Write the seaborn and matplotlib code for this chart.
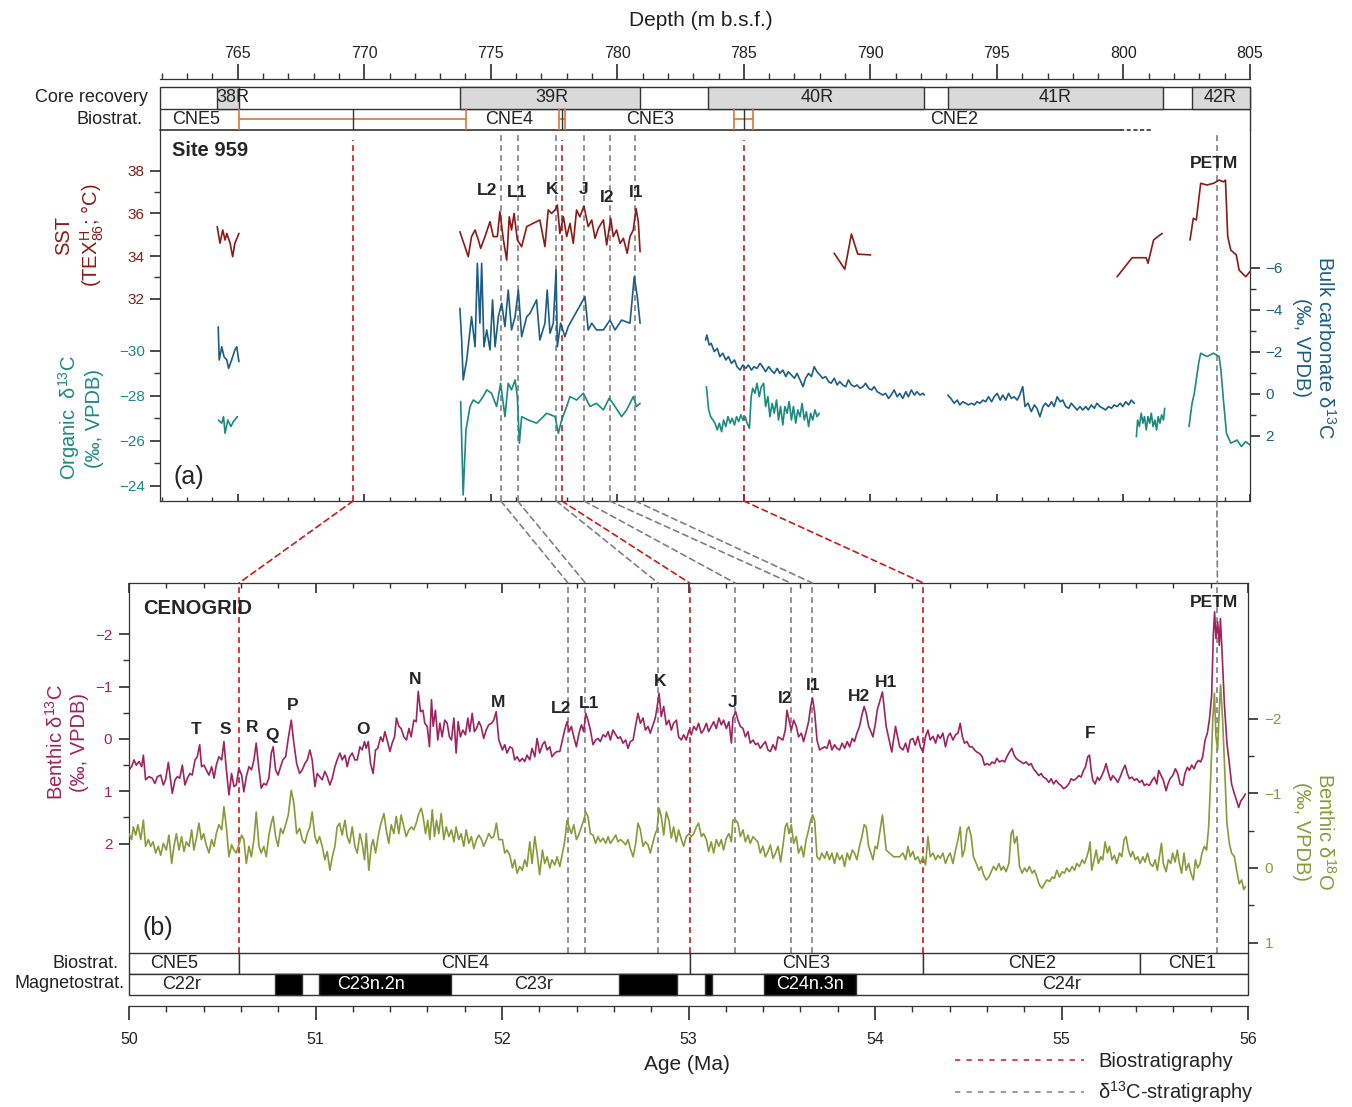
import numpy as np
import pandas as pd
import seaborn as sns
import matplotlib.pyplot as plt
from matplotlib.patches import Rectangle, ConnectionPatch
from matplotlib.lines import Line2D
from matplotlib.ticker import MultipleLocator

# ------------------------------------------------------------------
# Site 959 records (depth in m b.s.f.)
# ------------------------------------------------------------------
sst_depth_38r = [764.19, 764.30, 764.41, 764.50, 764.57, 764.70, 764.80, 764.89, 765.05]
sst_38r = [35.38, 34.60, 35.22, 34.75, 35.06, 34.60, 33.97, 34.60, 35.06]
sst_depth_39r = [773.78, 773.89, 773.98, 774.11, 774.24, 774.38, 774.51, 774.60, 774.77, 774.97,
                 775.10, 775.26, 775.36, 775.50, 775.63, 775.73, 775.82, 775.92, 776.05, 776.22,
                 776.42, 776.94, 777.14, 777.27, 777.40, 777.54, 777.63, 777.73, 777.87, 778.00,
                 778.13, 778.26, 778.39, 778.52, 778.68, 778.85, 778.99, 779.12, 779.25, 779.45,
                 779.58, 779.74, 779.84, 779.97, 780.11, 780.24, 780.39, 780.50, 780.63, 780.74,
                 780.83, 780.90]
sst_39r = [35.14, 34.75, 34.44, 33.97, 34.91, 35.22, 34.75, 34.36, 34.91, 35.61,
           34.91, 34.91, 36.08, 34.75, 33.81, 35.84, 35.22, 36.00, 34.75, 34.44,
           35.38, 35.69, 34.44, 36.16, 36.00, 36.16, 36.39, 35.06, 35.84, 34.91,
           35.53, 34.59, 36.16, 35.84, 36.34, 35.38, 35.69, 34.83, 35.30, 35.69,
           34.52, 35.77, 34.91, 35.22, 34.59, 34.83, 34.13, 34.91, 35.22, 36.23,
           35.61, 34.20]
sst_depth_40r = [788.57, 788.99, 789.25, 789.50, 790.01]
sst_40r = [34.13, 33.38, 35.03, 34.09, 34.05]
sst_depth_41r = [799.75, 800.34, 800.90, 800.97, 801.19, 801.27, 801.53]
sst_41r = [33.03, 33.92, 33.92, 33.66, 34.75, 34.83, 35.06]
sst_depth_42r = [802.63, 802.76, 802.88, 803.05, 803.30, 803.56, 803.78, 803.95, 804.03, 804.12,
                 804.24, 804.46, 804.57, 804.83, 805.00]
sst_42r = [34.75, 35.77, 35.69, 37.41, 37.33, 37.41, 37.56, 37.48, 37.56, 34.91,
           34.28, 34.05, 33.34, 33.03, 33.27]

bulk_depth_38r = [764.23, 764.27, 764.37, 764.46, 764.57, 764.64, 764.76, 764.89, 764.96, 765.05]
bulk_38r = [-3.20, -1.62, -2.25, -1.78, -1.62, -1.22, -1.62, -2.10, -2.25, -1.54]
bulk_depth_39r = [773.78, 773.85, 773.91, 774.05, 774.24, 774.38, 774.47, 774.57, 774.64, 774.73,
                  774.84, 774.97, 775.07, 775.17, 775.30, 775.43, 775.56, 775.69, 775.82, 775.96,
                  776.09, 776.22, 776.42, 776.55, 776.81, 776.94, 777.14, 777.23, 777.34, 777.47,
                  777.58, 777.63, 777.76, 777.93, 778.06, 778.72, 778.85, 778.99, 779.18, 779.45,
                  779.71, 779.91, 780.17, 780.50, 780.67, 780.79, 780.90]
bulk_39r = [-4.08, -2.57, -0.67, -1.62, -3.68, -2.25, -6.22, -3.37, -6.22, -2.25,
            -3.05, -2.10, -4.48, -2.25, -3.68, -4.32, -3.21, -4.95, -3.05, -3.68,
            -4.95, -2.73, -3.68, -3.84, -4.48, -2.57, -3.37, -4.95, -2.89, -3.37,
            -5.90, -2.25, -3.37, -2.73, -3.21, -4.63, -3.05, -3.37, -3.05, -3.05,
            -3.52, -3.05, -3.52, -3.37, -5.59, -4.63, -3.37]
bulk_depth_40r = [783.49, 783.54, 783.63, 783.71, 783.83, 783.95, 784.05, 784.17, 784.29, 784.39,
                  784.51, 784.63, 784.73, 784.85, 784.96, 785.07, 785.18, 785.30, 785.40, 785.52,
                  785.64, 785.74, 785.86, 785.98, 786.08, 786.20, 786.32, 786.42, 786.54, 786.66,
                  786.76, 786.88, 787.00, 787.10, 787.22, 787.34, 787.44, 787.56, 787.67, 787.78,
                  787.89, 788.01, 788.11, 788.23, 788.35, 788.45, 788.57, 788.69, 788.79, 788.91,
                  789.03, 789.13, 789.25, 789.37, 789.47, 789.59, 789.71, 789.81, 789.93, 790.05,
                  790.15, 790.27, 790.38, 790.49, 790.60, 790.72, 790.82, 790.94, 791.06, 791.16,
                  791.28, 791.40, 791.50, 791.62, 791.74, 791.84, 791.96, 792.08, 792.13]
bulk_40r = [-2.57, -2.81, -2.33, -2.41, -2.02, -2.17, -1.78, -1.94, -1.62, -1.78,
            -1.46, -1.62, -1.30, -1.14, -1.38, -1.22, -1.38, -1.14, -1.30, -1.22,
            -1.46, -1.30, -1.06, -1.30, -1.14, -0.98, -1.22, -0.98, -1.14, -0.83,
            -1.06, -0.90, -0.75, -0.98, -0.67, -0.35, -0.75, -0.98, -0.83, -1.30,
            -1.06, -0.90, -0.75, -0.83, -0.59, -0.51, -0.75, -0.43, -0.59, -0.43,
            -0.35, -0.67, -0.43, -0.35, -0.43, -0.27, -0.35, -0.51, -0.27, -0.19,
            -0.35, -0.11, -0.03, 0.05, -0.03, 0.21, 0.05, -0.19, 0.13, -0.03,
            0.21, -0.11, 0.13, -0.19, 0.05, -0.11, 0.05, -0.03, 0.05]
bulk_depth_41r = [793.06, 793.18, 793.31, 793.43, 793.53, 793.65, 793.77, 793.87, 793.99, 794.11,
                  794.21, 794.33, 794.45, 794.55, 794.67, 794.79, 794.89, 795.01, 795.13, 795.23,
                  795.35, 795.46, 795.57, 795.68, 795.80, 795.90, 796.02, 796.11, 796.23, 796.36,
                  796.48, 796.58, 796.70, 796.82, 796.92, 797.04, 797.16, 797.26, 797.38, 797.50,
                  797.60, 797.72, 797.84, 797.94, 798.05, 798.17, 798.28, 798.39, 798.51, 798.61,
                  798.73, 798.85, 798.95, 799.07, 799.19, 799.29, 799.41, 799.53, 799.63, 799.75,
                  799.87, 799.97, 800.09, 800.21, 800.31, 800.43]
bulk_41r = [0.05, 0.21, 0.44, 0.29, 0.52, 0.37, 0.44, 0.52, 0.44, 0.52,
            0.37, 0.44, 0.29, 0.37, 0.13, 0.37, 0.13, -0.03, 0.29, 0.05,
            0.29, -0.03, 0.21, 0.13, 0.29, 0.05, -0.35, 0.60, 0.44, 0.84,
            0.52, 0.68, 1.08, 0.60, 0.44, 0.60, 0.37, 0.60, 0.13, 0.37,
            0.29, 0.60, 0.68, 0.44, 0.60, 0.76, 0.60, 0.76, 0.60, 0.76,
            0.52, 0.68, 0.44, 0.60, 0.68, 0.76, 0.60, 0.68, 0.52, 0.60,
            0.44, 0.60, 0.37, 0.52, 0.29, 0.44]

org_depth_38r = [764.24, 764.37, 764.44, 764.50, 764.61, 764.73, 764.83, 764.99]
org_38r = [-26.93, -26.79, -27.08, -26.34, -26.93, -26.64, -26.86, -27.08]
org_depth_39r = [773.81, 773.91, 774.02, 774.18, 774.31, 774.51, 774.70, 774.84, 775.03, 775.23,
                 775.39, 775.56, 775.69, 775.82, 775.96, 776.05, 776.13, 776.22, 776.48, 776.81,
                 776.94, 777.21, 777.54, 777.67, 777.80, 778.00, 778.13, 778.39, 778.66, 778.92,
                 779.18, 779.45, 779.68, 779.91, 780.17, 780.37, 780.63, 780.76, 780.90]
org_39r = [-27.75, -23.60, -26.49, -27.53, -27.82, -27.67, -27.97, -28.27, -28.12, -27.53,
           -28.56, -27.08, -28.56, -28.27, -28.71, -27.97, -25.90, -27.08, -26.93, -26.79,
           -26.93, -27.23, -27.08, -26.34, -26.93, -27.53, -27.97, -27.82, -28.12, -27.53,
           -27.67, -27.38, -27.90, -27.53, -27.08, -27.38, -27.97, -27.53, -27.67]
org_depth_40r = [783.52, 783.56, 783.61, 783.69, 783.78, 783.86, 783.95, 784.03, 784.12, 784.20,
                 784.29, 784.37, 784.46, 784.54, 784.63, 784.71, 784.80, 784.88, 784.96, 785.05,
                 785.13, 785.22, 785.29, 785.35, 785.44, 785.52, 785.61, 785.69, 785.78, 785.86,
                 785.95, 786.03, 786.12, 786.20, 786.29, 786.37, 786.45, 786.54, 786.62, 786.71,
                 786.79, 786.88, 786.96, 787.05, 787.13, 787.22, 787.30, 787.39, 787.47, 787.56,
                 787.64, 787.72, 787.81, 787.89, 787.98]
org_40r = [-28.41, -27.97, -27.38, -27.08, -26.93, -26.79, -26.49, -26.79, -26.41, -26.93,
           -26.64, -27.08, -26.79, -27.01, -26.71, -27.08, -26.86, -27.16, -26.93, -27.08,
           -26.79, -26.56, -27.97, -28.34, -28.12, -28.56, -27.97, -28.41, -28.56, -27.53,
           -27.97, -27.08, -27.67, -27.23, -27.82, -26.93, -27.53, -26.71, -27.53, -27.23,
           -27.75, -26.93, -27.53, -26.79, -27.38, -27.08, -27.67, -26.93, -27.30, -26.64,
           -27.23, -26.93, -27.38, -27.08, -27.23]
org_depth_41r = [800.51, 800.56, 800.63, 800.70, 800.77, 800.83, 800.90, 800.97, 801.04, 801.10,
                 801.17, 801.24, 801.31, 801.37, 801.44, 801.51, 801.58, 801.63]
org_41r = [-26.19, -26.93, -26.64, -27.23, -26.79, -27.08, -26.49, -27.08, -26.79, -27.23,
           -26.64, -26.93, -26.49, -27.08, -26.79, -27.16, -26.93, -27.45]
org_depth_42r = [802.59, 802.71, 802.80, 802.97, 803.05, 803.30, 803.56, 803.78, 803.85, 803.95,
                 804.07, 804.24, 804.49, 804.66, 804.83, 805.00]
org_42r = [-26.64, -27.67, -28.12, -29.45, -29.90, -29.75, -29.90, -29.75, -29.16, -27.82,
           -26.34, -25.90, -26.04, -25.75, -25.97, -25.82]

# core recovery and biostratigraphy at Site 959
core_names = ["38R", "39R", "40R", "41R", "42R"]
core_top = [764.20, 773.80, 783.60, 793.06, 802.70]
core_bottom = [765.05, 780.90, 792.10, 801.58, 805.00]
core_label_depth = [764.80, 777.40, 787.90, 797.30, 803.80]
zone_a_names = ["CNE5", "CNE4", "CNE3", "CNE2"]
zone_a_label_depth = [763.35, 775.72, 781.29, 793.30]
zone_a_boundary = [769.56, 777.81, 785.00]
zone_a_lower = [765.04, 777.71, 784.60]
zone_a_upper = [774.02, 777.94, 785.38]
zone_a_known_until = 799.86
zone_a_dotted_until = 801.16

# tie points: depth at Site 959 and age in CENOGRID
tie_depth = [775.40, 776.06, 777.59, 778.69, 779.70, 780.71]
tie_age = [52.354, 52.447, 52.837, 53.250, 53.548, 53.664]
petm_depth = 803.69
petm_age = 55.836

# ------------------------------------------------------------------
# CENOGRID benthic records (age in Ma)
# ------------------------------------------------------------------
# 50-52 Ma
d13c_age_1 = [50.000, 50.014, 50.027, 50.039, 50.054, 50.068, 50.077, 50.089, 50.107, 50.125,
              50.139, 50.152, 50.170, 50.184, 50.196, 50.211, 50.223, 50.232, 50.247, 50.259,
              50.272, 50.286, 50.300, 50.313, 50.327, 50.339, 50.354, 50.366, 50.379, 50.389,
              50.402, 50.414, 50.429, 50.443, 50.456, 50.468, 50.482, 50.497, 50.509, 50.522,
              50.536, 50.550, 50.563, 50.575, 50.589, 50.604, 50.616, 50.629, 50.643, 50.657,
              50.670, 50.682, 50.697, 50.709, 50.723, 50.736, 50.750, 50.763, 50.773, 50.786,
              50.799, 50.813, 50.825, 50.840, 50.854, 50.870, 50.884, 50.899, 50.915, 50.929,
              50.943, 50.956, 50.970, 50.982, 50.997, 51.009, 51.022, 51.036, 51.050, 51.063,
              51.077, 51.090, 51.104, 51.116, 51.131, 51.143, 51.158, 51.170, 51.183, 51.197,
              51.211, 51.224, 51.238, 51.250, 51.263, 51.272, 51.283, 51.295, 51.309, 51.322,
              51.334, 51.349, 51.361, 51.372, 51.384, 51.399, 51.411, 51.424, 51.434, 51.447,
              51.459, 51.474, 51.488, 51.501, 51.513, 51.527, 51.540, 51.551, 51.563, 51.576,
              51.586, 51.599, 51.611, 51.622, 51.631, 51.643, 51.656, 51.667, 51.679, 51.693,
              51.706, 51.718, 51.729, 51.742, 51.754, 51.765, 51.777, 51.790, 51.804, 51.817,
              51.827, 51.840, 51.852, 51.863, 51.876, 51.888, 51.902, 51.915, 51.929, 51.944,
              51.956, 51.969, 51.983]
d13c_1 = [0.59, 0.53, 0.40, 0.50, 0.43, 0.53, 0.31, 0.78, 0.72, 0.75,
          0.85, 0.72, 0.69, 0.88, 0.78, 0.45, 0.78, 1.04, 0.78, 0.72,
          0.75, 0.50, 0.88, 0.75, 0.66, 0.69, 0.40, 0.34, 0.11, 0.53,
          0.50, 0.59, 0.69, 0.53, 0.75, 0.50, 0.34, 0.40, 0.05, 0.59,
          1.07, 0.66, 0.91, 0.88, 0.56, 0.69, 1.01, 0.72, 0.53, 0.59,
          0.40, 0.08, 0.59, 0.94, 0.85, 0.88, 0.75, 0.27, 0.15, 0.59,
          0.69, 0.53, 0.40, 0.34, -0.01, -0.36, 0.08, 0.47, 0.66, 0.59,
          0.47, 0.40, 0.21, 0.40, 0.91, 0.66, 0.72, 0.78, 0.62, 0.72,
          0.88, 0.75, 0.53, 0.40, 0.27, 0.40, 0.31, 0.53, 0.34, 0.27,
          0.40, 0.40, 0.15, 0.21, 0.05, 0.18, 0.05, 0.47, 0.66, 0.21,
          0.18, -0.04, 0.05, -0.14, 0.02, 0.24, 0.08, -0.04, -0.40, -0.24,
          -0.20, -0.04, 0.02, -0.20, -0.04, -0.36, -0.33, -0.91, -0.52, -0.55,
          -0.30, -0.24, 0.15, -0.75, -0.24, -0.55, 0.02, -0.30, -0.04, -0.36,
          -0.30, -0.04, 0.02, -0.40, 0.27, -0.33, -0.04, -0.17, -0.08, -0.40,
          -0.14, -0.49, -0.14, -0.20, -0.33, -0.24, -0.01, -0.17, -0.27, -0.30,
          -0.36, -0.52, 0.02]
d18o_age_1 = [50.000, 50.014, 50.023, 50.036, 50.048, 50.063, 50.077, 50.089, 50.104, 50.116,
              50.129, 50.143, 50.157, 50.170, 50.184, 50.200, 50.214, 50.229, 50.241, 50.254,
              50.268, 50.282, 50.295, 50.307, 50.322, 50.336, 50.348, 50.363, 50.375, 50.388,
              50.400, 50.414, 50.429, 50.443, 50.456, 50.468, 50.482, 50.497, 50.509, 50.522,
              50.536, 50.550, 50.563, 50.575, 50.589, 50.604, 50.616, 50.629, 50.643, 50.656,
              50.670, 50.682, 50.697, 50.709, 50.723, 50.736, 50.750, 50.763, 50.773, 50.786,
              50.799, 50.813, 50.825, 50.840, 50.854, 50.870, 50.884, 50.899, 50.915, 50.929,
              50.943, 50.956, 50.970, 50.982, 50.997, 51.009, 51.022, 51.036, 51.050, 51.063,
              51.077, 51.090, 51.104, 51.116, 51.129, 51.143, 51.158, 51.170, 51.183, 51.197,
              51.211, 51.224, 51.238, 51.250, 51.263, 51.272, 51.286, 51.299, 51.309, 51.322,
              51.336, 51.349, 51.367, 51.379, 51.393, 51.406, 51.420, 51.433, 51.447, 51.459,
              51.474, 51.486, 51.501, 51.515, 51.527, 51.540, 51.554, 51.567, 51.577, 51.590,
              51.602, 51.613, 51.626, 51.638, 51.649, 51.661, 51.674, 51.688, 51.701, 51.715,
              51.729, 51.742, 51.754, 51.768, 51.781, 51.795, 51.808, 51.822, 51.836, 51.849,
              51.863, 51.876, 51.890, 51.902, 51.917, 51.929, 51.944, 51.956, 51.970, 51.983]
d18o_1 = [-0.46, -0.38, -0.55, -0.44, -0.58, -0.38, -0.64, -0.29, -0.38, -0.29,
          -0.35, -0.20, -0.29, -0.17, -0.33, -0.24, -0.44, -0.06, -0.29, -0.46,
          -0.24, -0.42, -0.22, -0.35, -0.29, -0.51, -0.24, -0.42, -0.60, -0.38,
          -0.46, -0.31, -0.20, -0.38, -0.29, -0.46, -0.58, -0.51, -0.82, -0.55,
          -0.15, -0.31, -0.24, -0.20, -0.31, -0.44, -0.38, -0.06, -0.29, -0.15,
          -0.38, -0.75, -0.29, -0.20, -0.29, -0.15, -0.44, -0.60, -0.69, -0.42,
          -0.29, -0.53, -0.46, -0.58, -0.71, -1.04, -0.87, -0.46, -0.53, -0.38,
          -0.33, -0.46, -0.55, -0.75, -0.42, -0.33, -0.42, -0.29, -0.11, -0.22,
          0.03, -0.15, -0.29, -0.55, -0.60, -0.44, -0.64, -0.42, -0.33, -0.55,
          -0.29, -0.20, -0.46, -0.33, -0.11, -0.46, 0.03, -0.29, -0.38, -0.20,
          -0.42, -0.58, -0.73, -0.51, -0.33, -0.58, -0.46, -0.69, -0.46, -0.71,
          -0.55, -0.42, -0.51, -0.55, -0.51, -0.60, -0.73, -0.80, -0.69, -0.46,
          -0.64, -0.38, -0.78, -0.42, -0.64, -0.46, -0.73, -0.38, -0.55, -0.42,
          -0.51, -0.35, -0.55, -0.38, -0.46, -0.29, -0.51, -0.33, -0.42, -0.26,
          -0.38, -0.44, -0.38, -0.29, -0.38, -0.46, -0.40, -0.42, -0.60, -0.38]

# 52-54 Ma (same sampling for both isotopes)
age_2 = [52.002, 52.015, 52.027, 52.042, 52.056, 52.068, 52.081, 52.095, 52.109, 52.122,
         52.134, 52.149, 52.161, 52.176, 52.188, 52.202, 52.217, 52.229, 52.242, 52.256,
         52.268, 52.283, 52.295, 52.310, 52.324, 52.336, 52.349, 52.360, 52.372, 52.385,
         52.399, 52.411, 52.426, 52.438, 52.449, 52.461, 52.474, 52.488, 52.502, 52.515,
         52.527, 52.542, 52.556, 52.569, 52.581, 52.595, 52.610, 52.622, 52.635, 52.649,
         52.663, 52.676, 52.688, 52.703, 52.717, 52.729, 52.742, 52.756, 52.769, 52.783,
         52.795, 52.810, 52.822, 52.831, 52.842, 52.854, 52.867, 52.881, 52.895, 52.908,
         52.920, 52.935, 52.947, 52.962, 52.974, 52.988, 53.003, 53.015, 53.028, 53.042,
         53.054, 53.069, 53.081, 53.096, 53.108, 53.122, 53.135, 53.149, 53.163, 53.176,
         53.188, 53.203, 53.217, 53.230, 53.238, 53.253, 53.265, 53.278, 53.292, 53.305,
         53.319, 53.331, 53.346, 53.360, 53.372, 53.385, 53.399, 53.412, 53.426, 53.439,
         53.453, 53.467, 53.480, 53.494, 53.506, 53.519, 53.528, 53.539, 53.551, 53.564,
         53.578, 53.590, 53.605, 53.617, 53.631, 53.644, 53.655, 53.665, 53.676, 53.689,
         53.703, 53.715, 53.730, 53.742, 53.756, 53.769, 53.783, 53.796, 53.810, 53.824,
         53.837, 53.851, 53.864, 53.878, 53.890, 53.903, 53.917, 53.930, 53.942, 53.953,
         53.966, 53.978, 53.989, 54.001, 54.012]
d13c_2 = [0.21, 0.11, 0.27, 0.15, 0.18, 0.40, 0.34, 0.43, 0.37, 0.43,
          0.31, 0.40, 0.18, 0.34, -0.01, 0.27, 0.11, 0.05, 0.21, 0.15,
          0.34, 0.27, 0.24, 0.24, 0.02, -0.17, -0.33, -0.14, -0.24, -0.04,
          0.15, -0.08, -0.27, -0.14, -0.49, -0.36, -0.17, 0.11, 0.02, -0.01,
          0.05, -0.08, -0.04, -0.14, 0.02, -0.17, -0.08, -0.01, -0.04, 0.08,
          0.02, 0.18, 0.05, 0.02, -0.27, -0.49, -0.30, -0.40, -0.17, -0.24,
          -0.11, -0.27, -0.40, -0.59, -0.87, -0.43, -0.62, -0.27, -0.36, -0.17,
          -0.30, -0.36, -0.04, 0.02, -0.08, 0.02, -0.17, -0.08, -0.24, -0.17,
          -0.30, -0.11, -0.17, -0.30, -0.14, -0.24, -0.33, -0.20, -0.40, -0.27,
          -0.36, -0.20, -0.33, 0.08, -0.40, -0.52, -0.36, -0.24, -0.20, -0.04,
          -0.14, 0.08, 0.02, 0.11, 0.08, 0.18, 0.11, 0.05, 0.21, 0.24,
          0.11, 0.21, -0.04, -0.01, 0.02, -0.17, -0.55, -0.36, -0.17, -0.36,
          -0.24, -0.04, -0.11, 0.05, -0.14, -0.33, -0.62, -0.78, -0.52, 0.02,
          0.21, 0.18, 0.15, 0.18, 0.02, 0.21, 0.11, 0.18, 0.21, 0.08,
          0.18, 0.05, 0.15, -0.01, 0.05, -0.11, -0.24, -0.46, -0.62, -0.49,
          -0.24, -0.14, -0.04, -0.27, -0.55]
d18o_2 = [-0.38, -0.20, -0.24, -0.17, 0.00, -0.11, 0.07, -0.02, 0.03, -0.11,
          -0.02, -0.35, -0.06, -0.42, -0.20, 0.09, -0.24, -0.06, -0.15, 0.00,
          -0.11, -0.04, -0.15, -0.02, -0.20, -0.35, -0.64, -0.55, -0.46, -0.58,
          -0.38, -0.44, -0.55, -0.64, -0.75, -0.69, -0.46, -0.44, -0.33, -0.42,
          -0.35, -0.40, -0.33, -0.42, -0.33, -0.38, -0.44, -0.35, -0.38, -0.35,
          -0.31, -0.38, -0.26, -0.15, -0.33, -0.60, -0.51, -0.29, -0.35, -0.31,
          -0.20, -0.35, -0.46, -0.51, -0.80, -0.69, -0.44, -0.75, -0.64, -0.40,
          -0.55, -0.35, -0.51, -0.38, -0.29, -0.42, -0.46, -0.42, -0.46, -0.55,
          -0.60, -0.42, -0.46, -0.38, -0.22, -0.35, -0.20, -0.38, -0.29, -0.38,
          -0.24, -0.40, -0.46, -0.35, -0.64, -0.64, -0.60, -0.42, -0.51, -0.35,
          -0.44, -0.33, -0.42, -0.38, -0.35, -0.20, -0.29, -0.15, -0.22, -0.31,
          -0.13, -0.20, -0.29, -0.08, -0.29, -0.55, -0.60, -0.46, -0.58, -0.33,
          -0.42, -0.20, -0.29, -0.15, -0.38, -0.51, -0.64, -0.71, -0.64, -0.15,
          -0.11, -0.20, -0.13, -0.22, -0.11, -0.20, -0.06, -0.20, -0.11, -0.17,
          -0.02, -0.20, -0.11, -0.24, -0.20, -0.11, -0.29, -0.42, -0.58, -0.55,
          -0.29, -0.20, -0.11, -0.29, -0.26]

# 54-56 Ma
d13c_age_3 = [54.04, 54.06, 54.09, 54.11,
              54.132, 54.150, 54.164, 54.177, 54.189, 54.203, 54.216, 54.230, 54.243, 54.257,
              54.271, 54.284, 54.296, 54.311, 54.325, 54.337, 54.350, 54.364, 54.378, 54.391,
              54.403, 54.418, 54.432, 54.445, 54.457, 54.468, 54.480, 54.493, 54.507, 54.521,
              54.534, 54.546, 54.561, 54.575, 54.587, 54.600, 54.614, 54.628, 54.641, 54.653,
              54.668, 54.682, 54.695, 54.707, 54.721, 54.734, 54.746, 54.757, 54.771, 54.784,
              54.796, 54.811, 54.825, 54.837, 54.850, 54.864, 54.878, 54.891, 54.903, 54.918,
              54.932, 54.945, 54.957, 54.971, 54.986, 54.998, 55.011, 55.025, 55.039, 55.052,
              55.064, 55.078, 55.093, 55.105, 55.118, 55.128, 55.141, 55.150, 55.159, 55.168,
              55.180, 55.193, 55.203, 55.216, 55.228, 55.239, 55.252, 55.264, 55.275, 55.289,
              55.302, 55.314, 55.328, 55.341, 55.353, 55.364, 55.378, 55.391, 55.403, 55.418,
              55.432, 55.444, 55.457, 55.471, 55.486, 55.498, 55.511, 55.521, 55.534, 55.546,
              55.561, 55.571, 55.582, 55.596, 55.611, 55.623, 55.636, 55.650, 55.662, 55.675,
              55.686, 55.698, 55.711, 55.721, 55.734, 55.746, 55.757, 55.770, 55.782, 55.793,
              55.805, 55.814, 55.821, 55.828, 55.837, 55.846, 55.852, 55.861, 55.873, 55.887,
              55.900, 55.912, 55.927, 55.939, 55.950, 55.962, 55.975, 55.986]
d13c_3 = [-0.90, -0.24, 0.25, -0.24,
          0.15, 0.21, 0.08, 0.25, 0.02, -0.01, 0.12, -0.05, 0.15, 0.25,
          -0.05, -0.17, 0.02, -0.05, 0.08, -0.08, -0.01, -0.11, 0.15, -0.05,
          -0.11, 0.02, -0.08, -0.11, -0.30, -0.05, 0.08, 0.05, 0.15, 0.15,
          0.21, 0.25, 0.28, 0.34, 0.50, 0.47, 0.50, 0.44, 0.47, 0.37,
          0.44, 0.41, 0.44, 0.34, 0.25, 0.18, 0.31, 0.37, 0.41, 0.44,
          0.47, 0.44, 0.50, 0.47, 0.57, 0.63, 0.70, 0.66, 0.73, 0.76,
          0.83, 0.76, 0.86, 0.79, 0.86, 0.89, 0.95, 0.92, 0.86, 0.76,
          0.79, 0.76, 0.70, 0.73, 0.60, 0.54, 0.34, 0.31, 0.60, 0.79,
          0.86, 0.73, 0.79, 0.70, 0.60, 0.47, 0.66, 0.79, 0.70, 0.76,
          0.83, 0.73, 0.60, 0.50, 0.66, 0.76, 0.73, 0.79, 0.76, 0.83,
          0.79, 0.89, 0.86, 0.89, 0.79, 0.73, 0.86, 0.60, 0.70, 0.79,
          0.99, 0.86, 0.76, 0.70, 0.57, 0.66, 0.86, 0.89, 0.66, 0.54,
          0.60, 0.50, 0.57, 0.47, 0.41, 0.44, 0.34, 0.02, -0.11, -0.37,
          -0.82, -1.98, -2.43, -1.92, -2.24, -1.79, -2.30, -1.66, -0.69, 0.08,
          0.47, 0.86, 1.05, 1.18, 1.31, 1.18, 1.12, 1.05]
d18o_age_3 = [54.04, 54.06, 54.10,
              54.132, 54.150, 54.164, 54.177, 54.189, 54.203, 54.216, 54.230, 54.243, 54.257,
              54.271, 54.284, 54.296, 54.311, 54.325, 54.337, 54.350, 54.364, 54.378, 54.391,
              54.403, 54.418, 54.432, 54.445, 54.457, 54.468, 54.480, 54.493, 54.503, 54.516,
              54.528, 54.543, 54.557, 54.570, 54.582, 54.596, 54.611, 54.623, 54.636, 54.650,
              54.664, 54.677, 54.689, 54.703, 54.718, 54.730, 54.739, 54.748, 54.761, 54.775,
              54.789, 54.802, 54.814, 54.828, 54.843, 54.855, 54.868, 54.882, 54.896, 54.909,
              54.921, 54.936, 54.950, 54.962, 54.975, 54.989, 55.003, 55.016, 55.028, 55.043,
              55.057, 55.070, 55.082, 55.096, 55.111, 55.123, 55.136, 55.146, 55.153, 55.162,
              55.175, 55.186, 55.198, 55.211, 55.221, 55.234, 55.246, 55.257, 55.271, 55.284,
              55.296, 55.311, 55.323, 55.336, 55.346, 55.359, 55.371, 55.382, 55.396, 55.409,
              55.421, 55.436, 55.448, 55.461, 55.475, 55.489, 55.502, 55.514, 55.525, 55.536,
              55.546, 55.561, 55.573, 55.586, 55.596, 55.609, 55.621, 55.632, 55.644, 55.657,
              55.668, 55.682, 55.694, 55.707, 55.718, 55.730, 55.743, 55.753, 55.766, 55.778,
              55.789, 55.800, 55.811, 55.820, 55.828, 55.837, 55.846, 55.853, 55.864, 55.875,
              55.887, 55.900, 55.912, 55.927, 55.939, 55.953, 55.966, 55.977, 55.986]
d18o_3 = [-0.71, -0.24, -0.15,
          -0.15, -0.20, -0.11, -0.29, -0.15, -0.22, -0.11, -0.15, -0.06, -0.15,
          -0.04, -0.42, -0.15, -0.20, -0.11, -0.17, -0.13, -0.20, -0.06, -0.15,
          -0.20, -0.06, -0.24, -0.38, -0.55, -0.15, -0.24, -0.51, -0.55, -0.42,
          -0.15, -0.06, 0.03, -0.02, 0.09, 0.16, 0.12, 0.05, -0.02, 0.03,
          -0.06, 0.03, -0.02, 0.05, -0.06, -0.46, -0.51, -0.33, -0.42, -0.02,
          0.07, 0.00, 0.05, -0.02, 0.07, 0.03, 0.12, 0.23, 0.27, 0.21,
          0.16, 0.18, 0.12, 0.14, 0.03, 0.12, 0.05, 0.07, 0.00, 0.05,
          -0.02, 0.03, -0.06, -0.02, -0.11, -0.06, -0.15, -0.24, -0.35, 0.03,
          -0.11, -0.24, -0.06, -0.15, -0.11, -0.35, -0.20, -0.29, -0.11, -0.17,
          -0.06, -0.20, -0.15, -0.38, -0.42, -0.24, -0.15, -0.22, -0.11, -0.15,
          -0.06, -0.15, -0.08, -0.20, -0.06, -0.02, -0.11, 0.03, -0.15, -0.33,
          -0.06, 0.05, -0.11, -0.06, -0.20, -0.08, -0.24, -0.06, 0.07, -0.20,
          0.03, -0.06, 0.07, 0.16, -0.11, 0.00, -0.06, -0.20, -0.29, -0.24,
          -0.55, -1.21, -1.98, -2.34, -1.76, -1.58, -2.11, -2.45, -1.98, -1.31,
          -0.60, -0.33, -0.20, -0.15, 0.03, 0.21, 0.16, 0.29, 0.25]

# biostratigraphic zones and polarity chrons (age, Ma)
zone_b_names = ["CNE5", "CNE4", "CNE3", "CNE2", "CNE1"]
zone_b_edges = [50.00, 50.59, 53.006, 54.26, 55.42, 56.00]
zone_b_label_age = [50.24, 51.80, 53.63, 54.84, 55.70]
normal_start = [50.785, 51.02, 52.63, 53.086, 53.405]
normal_end = [50.93, 51.725, 52.94, 53.125, 53.90]
chron_names = ["C22r", "C23n.2n", "C23r", "C24n.3n", "C24r"]
chron_label_age = [50.28, 51.30, 52.17, 53.65, 55.00]
chron_is_normal = [False, True, False, True, False]
zone_b_boundary_age = [50.59, 53.006, 54.26]

# event labels
a_event_names = ["L2", "L1", "K", "J", "I2", "I1", "PETM"]
a_event_depth = [774.84, 776.02, 777.41, 778.68, 779.58, 780.74, 803.59]
a_event_sst = [37.05, 36.97, 37.13, 37.13, 36.73, 37.00, 38.35]
b_event_names = ["T", "S", "R", "Q", "P", "O", "N", "M", "L2", "L1", "K", "J",
                 "I2", "I1", "H2", "H1", "F", "PETM"]
b_event_age = [50.359, 50.518, 50.661, 50.765, 50.877, 51.256, 51.533, 51.979, 52.319, 52.467,
               52.847, 53.238, 53.517, 53.667, 53.914, 54.061, 55.154, 55.82]
b_event_d13c = [-0.185, -0.185, -0.224, -0.057, -0.631, -0.185, -1.128, -0.702, -0.587, -0.669,
                -1.090, -0.694, -0.765, -1.013, -0.809, -1.076, -0.096, -2.614]

# ------------------------------------------------------------------
SST_C = "#8b1a16"
BULK_C = "#1c5d86"
ORG_C = "#1b8a7f"
D13_C = "#a0225e"
D18_C = "#889a3a"
RED = "#cc1a1a"
GREY = "#808080"
INK = "#222222"
ORANGE = "#d9773f"

DEPTH_MIN, DEPTH_MAX = 761.93, 805.0
AGE_MIN, AGE_MAX = 50.0, 56.0

W, H = 1352, 1107


def box(x0, y0, x1, y1):
    return [x0 / W, 1 - y1 / H, (x1 - x0) / W, (y1 - y0) / H]


def pieces_frame(pieces, xname):
    frames = [pd.DataFrame({xname: xs, "value": ys, "seg": k}) for k, (xs, ys) in enumerate(pieces)]
    return pd.concat(frames, ignore_index=True)


sns.set_theme(style="ticks")
plt.rcParams["font.family"] = ["Liberation Sans", "DejaVu Sans"]
plt.rcParams["mathtext.fontset"] = "custom"
plt.rcParams["mathtext.rm"] = "Liberation Sans"
plt.rcParams["mathtext.it"] = "Liberation Sans:italic"
plt.rcParams["mathtext.bf"] = "Liberation Sans:bold"
plt.rcParams["mathtext.default"] = "regular"
plt.rcParams["axes.edgecolor"] = "#333333"
plt.rcParams["axes.linewidth"] = 0.9

fig = plt.figure(figsize=(W / 100, H / 100), dpi=100)

sst_df = pieces_frame([(sst_depth_38r, sst_38r), (sst_depth_39r, sst_39r), (sst_depth_40r, sst_40r),
                       (sst_depth_41r, sst_41r), (sst_depth_42r, sst_42r)], "depth")
bulk_df = pieces_frame([(bulk_depth_38r, bulk_38r), (bulk_depth_39r, bulk_39r),
                        (bulk_depth_40r, bulk_40r), (bulk_depth_41r, bulk_41r)], "depth")
org_df = pieces_frame([(org_depth_38r, org_38r), (org_depth_39r, org_39r), (org_depth_40r, org_40r),
                       (org_depth_41r, org_41r), (org_depth_42r, org_42r)], "depth")
d13_df = pd.DataFrame({"age": d13c_age_1 + age_2 + d13c_age_3, "value": d13c_1 + d13c_2 + d13c_3})
d18_df = pd.DataFrame({"age": d18o_age_1 + age_2 + d18o_age_3, "value": d18o_1 + d18o_2 + d18o_3})

LW = 1.2
red_dash = (0, (3.5, 2.5))
grey_dash = (0, (3.5, 2.5))

# ---------------- panel (a) ----------------
ax_a = fig.add_axes(box(160, 130, 1250, 501))
ax_org = ax_a.twinx()
ax_bulk = ax_a.twinx()

sns.lineplot(data=sst_df, x="depth", y="value", units="seg", estimator=None,
             color=SST_C, lw=LW, ax=ax_a, legend=False)
sns.lineplot(data=org_df, x="depth", y="value", units="seg", estimator=None,
             color=ORG_C, lw=LW, ax=ax_org, legend=False)
sns.lineplot(data=bulk_df, x="depth", y="value", units="seg", estimator=None,
             color=BULK_C, lw=LW, ax=ax_bulk, legend=False)

ax_a.set_xlim(DEPTH_MIN, DEPTH_MAX)
ax_a.set_ylim(22.51, 39.91)
ax_org.set_ylim(-23.33, -39.82)
ax_bulk.set_ylim(5.095, -12.57)
for ax in (ax_a, ax_org, ax_bulk):
    ax.set_xlabel("")
    ax.set_ylabel("")

for d in zone_a_boundary:
    ax_a.axvline(d, ymin=0, ymax=0.973, color=RED, ls=red_dash, lw=LW, zorder=1)
for d in tie_depth + [petm_depth]:
    ax_a.axvline(d, ymin=0, ymax=0.987, color=GREY, ls=grey_dash, lw=LW, zorder=1)

ax_a.spines["top"].set_visible(False)
ax_a.spines["right"].set_visible(False)
for s in ax_org.spines.values():
    s.set_visible(False)
for name, s in ax_bulk.spines.items():
    s.set_visible(name == "right")

ax_a.set_xticks(np.arange(765, 806, 5))
ax_a.xaxis.set_minor_locator(MultipleLocator(1))
ax_a.tick_params(axis="x", which="both", direction="in", bottom=True, top=False,
                 labelbottom=False, color="#333333")
ax_a.tick_params(axis="x", which="major", length=5)
ax_a.tick_params(axis="x", which="minor", length=3)

ax_a.set_yticks([32, 34, 36, 38])
ax_a.set_yticks([33, 35, 37], minor=True)
ax_org.yaxis.tick_left()
ax_org.set_yticks([-30, -28, -26, -24])
ax_org.set_yticks([-29, -27, -25], minor=True)
ax_bulk.set_yticks([-6, -4, -2, 0, 2])
ax_bulk.set_yticks([-5, -3, -1, 1], minor=True)
for ax, c in ((ax_a, SST_C), (ax_org, ORG_C), (ax_bulk, BULK_C)):
    ax.tick_params(axis="y", which="both", direction="out", color="#333333",
                   labelcolor=c, labelsize=11)
    ax.tick_params(axis="y", which="major", length=7, pad=4)
    ax.tick_params(axis="y", which="minor", length=4)

ax_a.text(0.011, 0.946, "Site 959", transform=ax_a.transAxes, fontsize=14.5,
          fontweight="bold", ha="left", va="center")
ax_a.text(0.026, 0.065, "(a)", transform=ax_a.transAxes, fontsize=18, ha="center", va="center")
for name, d, t in zip(a_event_names, a_event_depth, a_event_sst):
    ax_a.text(d, t, name, fontsize=12.5, fontweight="bold", ha="center", va="center")

# strip above panel (a)
ax_sa = fig.add_axes(box(160, 87, 1250, 130))
ax_sa.set_xlim(DEPTH_MIN, DEPTH_MAX)
ax_sa.set_ylim(0, 2)
ax_sa.axis("off")
ax_sa.add_patch(Rectangle((DEPTH_MIN, 1), DEPTH_MAX - DEPTH_MIN, 1, fc="white", ec="#333333",
                          lw=1, clip_on=False))
for name, top, bot, lab in zip(core_names, core_top, core_bottom, core_label_depth):
    ax_sa.add_patch(Rectangle((top, 1), bot - top, 1, fc="#d9d9d9", ec="#333333", lw=1,
                              clip_on=False))
    ax_sa.text(lab, 1.5, name, ha="center", va="center", fontsize=13, color=INK)
ax_sa.plot([DEPTH_MIN, DEPTH_MIN], [0, 1], color="#333333", lw=1, clip_on=False)
ax_sa.plot([DEPTH_MAX, DEPTH_MAX], [0, 1], color="#333333", lw=1, clip_on=False)
ax_sa.plot([DEPTH_MIN, zone_a_known_until], [0, 0], color="#333333", lw=1.2, clip_on=False)
ax_sa.plot([zone_a_known_until, zone_a_dotted_until], [0, 0], color="#333333", lw=1.2,
           ls=(0, (2.5, 1.5)), clip_on=False)
for lo, mid, hi in zip(zone_a_lower, zone_a_boundary, zone_a_upper):
    ax_sa.plot([lo, hi], [0.5, 0.5], color=ORANGE, lw=1.2)
    ax_sa.plot([lo, lo], [0, 1], color=ORANGE, lw=1.2)
    ax_sa.plot([hi, hi], [0, 1], color=ORANGE, lw=1.2)
    ax_sa.plot([mid, mid], [0, 1], color="#333333", lw=1)
for name, d in zip(zone_a_names, zone_a_label_depth):
    ax_sa.text(d, 0.5, name, ha="center", va="center", fontsize=13, color=INK)

# depth axis on top
ax_depth = fig.add_axes(box(160, 79, 1250, 80))
ax_depth.set_xlim(DEPTH_MIN, DEPTH_MAX)
ax_depth.set_yticks([])
ax_depth.patch.set_visible(False)
for name, s in ax_depth.spines.items():
    s.set_visible(name == "top")
ax_depth.xaxis.set_ticks_position("top")
ax_depth.set_xticks(np.arange(765, 806, 5))
ax_depth.xaxis.set_minor_locator(MultipleLocator(1))
ax_depth.tick_params(axis="x", which="both", direction="out", color="#333333",
                     labelsize=11.5, labelcolor=INK)
ax_depth.tick_params(axis="x", which="major", length=11, pad=2)
ax_depth.tick_params(axis="x", which="minor", length=4.5)
fig.text(701 / W, 1 - 21 / H, "Depth (m b.s.f.)", ha="center", va="center", fontsize=15, color=INK)

# ---------------- panel (b) ----------------
ax_b = fig.add_axes(box(129, 583, 1248, 953))
ax_b18 = ax_b.twinx()
sns.lineplot(data=d13_df, x="age", y="value", color=D13_C, lw=LW, ax=ax_b, legend=False)
sns.lineplot(data=d18_df, x="age", y="value", color=D18_C, lw=LW, ax=ax_b18, legend=False)
ax_b.set_xlim(AGE_MIN, AGE_MAX)
ax_b.set_ylim(4.09, -2.98)
ax_b18.set_ylim(1.138, -3.815)
for ax in (ax_b, ax_b18):
    ax.set_xlabel("")
    ax.set_ylabel("")

for a in zone_b_boundary_age:
    ax_b.axvline(a, color=RED, ls=red_dash, lw=LW, zorder=1)
for a in tie_age + [petm_age]:
    ax_b.axvline(a, color=GREY, ls=grey_dash, lw=LW, zorder=1)

ax_b.spines["bottom"].set_visible(False)
ax_b.spines["right"].set_visible(False)
for name, s in ax_b18.spines.items():
    s.set_visible(name == "right")
ax_b.xaxis.set_ticks_position("top")
ax_b.set_xticks(np.arange(50, 57, 1))
ax_b.xaxis.set_minor_locator(MultipleLocator(0.2))
ax_b.tick_params(axis="x", which="both", direction="in", labeltop=False, labelbottom=False,
                 color="#333333")
ax_b.tick_params(axis="x", which="major", length=7)
ax_b.tick_params(axis="x", which="minor", length=3.5)
ax_b.set_yticks([-2, -1, 0, 1, 2])
ax_b.set_yticks([-1.5, -0.5, 0.5, 1.5], minor=True)
ax_b18.set_yticks([-2, -1, 0, 1])
ax_b18.set_yticks([-1.5, -0.5, 0.5], minor=True)
for ax, c in ((ax_b, D13_C), (ax_b18, D18_C)):
    ax.tick_params(axis="y", which="both", direction="out", color="#333333",
                   labelcolor=c, labelsize=11)
    ax.tick_params(axis="y", which="major", length=7, pad=5)
    ax.tick_params(axis="y", which="minor", length=4)

ax_b.text(0.0125, 0.932, "CENOGRID", transform=ax_b.transAxes, fontsize=14.5,
          fontweight="bold", ha="left", va="center")
ax_b.text(0.026, 0.068, "(b)", transform=ax_b.transAxes, fontsize=18, ha="center", va="center")
for name, a, v in zip(b_event_names, b_event_age, b_event_d13c):
    ax_b.text(a, v, name, fontsize=12.5, fontweight="bold", ha="center", va="center")

# connectors between the panels
for d, a in zip(zone_a_boundary, zone_b_boundary_age):
    fig.add_artist(ConnectionPatch(xyA=(d, 0), coordsA=ax_a.get_xaxis_transform(),
                                   xyB=(a, 1), coordsB=ax_b.get_xaxis_transform(),
                                   color=RED, ls=red_dash, lw=LW))
for d, a in zip(tie_depth + [petm_depth], tie_age + [petm_age]):
    fig.add_artist(ConnectionPatch(xyA=(d, 0), coordsA=ax_a.get_xaxis_transform(),
                                   xyB=(a, 1), coordsB=ax_b.get_xaxis_transform(),
                                   color=GREY, ls=grey_dash, lw=LW))

# strip below panel (b)
ax_sb = fig.add_axes(box(129, 953, 1248, 995))
ax_sb.set_xlim(AGE_MIN, AGE_MAX)
ax_sb.set_ylim(0, 2)
ax_sb.axis("off")
for name, lo, hi, lab in zip(zone_b_names, zone_b_edges[:-1], zone_b_edges[1:], zone_b_label_age):
    ax_sb.add_patch(Rectangle((lo, 1), hi - lo, 1, fc="white", ec="#333333", lw=1, clip_on=False))
    ax_sb.text(lab, 1.5, name, ha="center", va="center", fontsize=13, color=INK)
ax_sb.add_patch(Rectangle((AGE_MIN, 0), AGE_MAX - AGE_MIN, 1, fc="white", ec="#333333", lw=1,
                          clip_on=False))
for lo, hi in zip(normal_start, normal_end):
    ax_sb.add_patch(Rectangle((lo, 0), hi - lo, 1, fc="black", ec="#333333", lw=1, clip_on=False))
for name, a, normal in zip(chron_names, chron_label_age, chron_is_normal):
    ax_sb.text(a, 0.5, name, ha="center", va="center", fontsize=13,
               color="white" if normal else INK)

# age axis at the bottom
ax_age = fig.add_axes(box(129, 1005, 1248, 1006))
ax_age.set_xlim(AGE_MIN, AGE_MAX)
ax_age.set_yticks([])
ax_age.patch.set_visible(False)
for name, s in ax_age.spines.items():
    s.set_visible(name == "bottom")
ax_age.set_xticks(np.arange(50, 57, 1))
ax_age.xaxis.set_minor_locator(MultipleLocator(0.2))
ax_age.tick_params(axis="x", which="both", direction="out", color="#333333",
                   labelsize=11.5, labelcolor=INK)
ax_age.tick_params(axis="x", which="major", length=10, pad=9)
ax_age.tick_params(axis="x", which="minor", length=4.5)
fig.text(687 / W, 1 - 1065 / H, "Age (Ma)", ha="center", va="center", fontsize=15, color=INK)

# row labels and axis titles
fig.text(148 / W, 1 - 97.5 / H, "Core recovery", ha="right", va="center", fontsize=13, color=INK)
fig.text(143 / W, 1 - 119 / H, "Biostrat.", ha="right", va="center", fontsize=13, color=INK)
fig.text(118 / W, 1 - 963 / H, "Biostrat.", ha="right", va="center", fontsize=13, color=INK)
fig.text(124 / W, 1 - 984 / H, "Magnetostrat.", ha="right", va="center", fontsize=13, color=INK)

fig.text(80 / W, 1 - 235 / H, "SST\n(TEX$_{86}^{H}$; °C)", rotation=90, ha="center", va="center",
         color=SST_C, fontsize=14.5, linespacing=1.25, multialignment="center")
fig.text(80 / W, 1 - 418 / H, "Organic  δ$^{13}$C\n(‰, VPDB)", rotation=90, ha="center",
         va="center", color=ORG_C, fontsize=14.5, linespacing=1.25, multialignment="center")
fig.text(1314 / W, 1 - 348 / H, "Bulk carbonate δ$^{13}$C\n(‰, VPDB)", rotation=270, ha="center",
         va="center", color=BULK_C, fontsize=14.5, linespacing=1.25, multialignment="center")
fig.text(67 / W, 1 - 742 / H, "Benthic δ$^{13}$C\n(‰, VPDB)", rotation=90, ha="center",
         va="center", color=D13_C, fontsize=14.5, linespacing=1.25, multialignment="center")
fig.text(1314 / W, 1 - 832 / H, "Benthic δ$^{18}$O\n(‰, VPDB)", rotation=270, ha="center",
         va="center", color=D18_C, fontsize=14.5, linespacing=1.25, multialignment="center")

# legend
handles = [Line2D([], [], color=RED, ls=(0, (3.5, 4)), lw=1.1),
           Line2D([], [], color=GREY, ls=(0, (3.5, 4)), lw=1.1)]
fig.legend(handles, ["Biostratigraphy", "δ$^{13}$C-stratigraphy"], loc="upper left",
           bbox_to_anchor=(955 / W, 1 - 1052 / H), frameon=False, fontsize=14.5,
           handlelength=6.4, handletextpad=0.7, labelspacing=0.42, borderpad=0,
           borderaxespad=0)

fig.savefig("out.png", dpi=100)
